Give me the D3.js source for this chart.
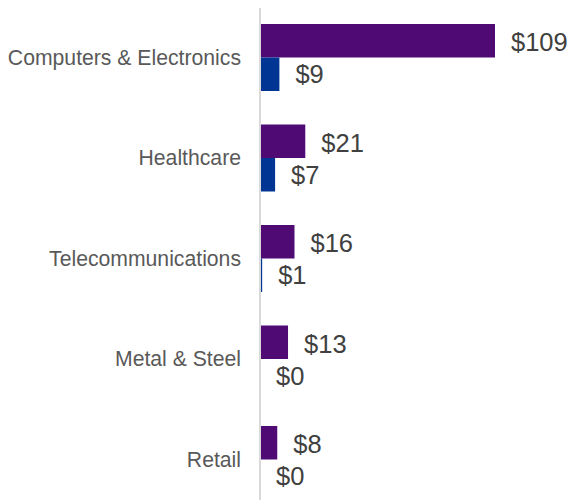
<!DOCTYPE html>
<html><head><meta charset="utf-8">
<script src="https://cdn.jsdelivr.net/npm/d3@7"></script>
<style>html,body{margin:0;padding:0;background:#fff;}svg{display:block;}</style>
</head><body>
<script>
const categories = ["Computers & Electronics","Healthcare","Telecommunications","Metal & Steel","Retail"];
const seriesA = [109, 21, 16, 13, 8];
const seriesB = [9, 7, 1, 0, 0];
const seriesColors = ["#500A74", "#003594"];

const W = 573, H = 500;
const svg = d3.select("body").append("svg").attr("width", W).attr("height", H);

const x = d3.scaleLinear().domain([0, 109]).range([260, 495]);
const y = d3.scaleBand().domain(categories).range([24, 493]).paddingInner(1/3).paddingOuter(0);
const sub = d3.scaleBand().domain([0, 1]).range([0, y.bandwidth()]);

const rows = categories.map((c, i) => ({c, vals: [seriesA[i], seriesB[i]]}));

const g = svg.selectAll("g.grp").data(rows).join("g").attr("class", "grp")
  .attr("transform", d => `translate(0,${y(d.c)})`);

g.selectAll("rect").data(d => d.vals).join("rect")
  .attr("x", x(0))
  .attr("y", (v, j) => sub(j))
  .attr("width", v => x(v) - x(0))
  .attr("height", sub.bandwidth())
  .attr("fill", (v, j) => seriesColors[j]);

g.selectAll("text.val").data(d => d.vals).join("text").attr("class", "val")
  .attr("x", v => x(v) + 16)
  .attr("y", (v, j) => sub(j) + sub.bandwidth() / 2 + (j === 0 ? 10.5 : 9))
  .attr("font-family", "Liberation Sans, Arial, sans-serif")
  .attr("font-size", 25.5)
  .attr("fill", "#404040")
  .text(v => "$" + v);

// axis line
svg.append("line").attr("x1", x(0)).attr("x2", x(0)).attr("y1", 8).attr("y2", H)
  .attr("stroke", "#d9d9d9").attr("stroke-width", 2);

svg.selectAll("text.cat").data(categories).join("text").attr("class", "cat")
  .attr("x", 241)
  .attr("y", d => y(d) + y.bandwidth() / 2 + 7)
  .attr("text-anchor", "end")
  .attr("font-family", "Liberation Sans, Arial, sans-serif")
  .attr("font-size", 21.2)
  .attr("fill", "#595959")
  .text(d => d);
</script>
</body></html>
